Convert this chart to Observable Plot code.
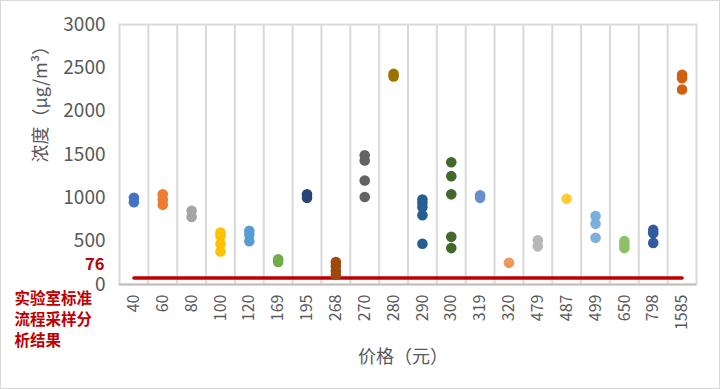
<!DOCTYPE html>
<html><head><meta charset="utf-8">
<script src="https://cdn.jsdelivr.net/npm/d3@7"></script>
<script src="https://cdn.jsdelivr.net/npm/@observablehq/plot@0.6"></script>
<style>
body{margin:0;background:#fff;}
svg{outline:1px solid #d9d9d9;outline-offset:-1px;}
</style></head>
<body><div id="chart"></div>
<script>
const categories = ["40","60","80","100","120","169","195","268","270","280","290","300","319","320","479","487","499","650","798","1585"];
const values = [
  [1000, 950],
  [1040, 980, 920],
  [850, 780],
  [600, 560, 470, 380],
  [620, 570, 500],
  [290, 260],
  [1040, 1000],
  [260, 210, 160, 110],
  [1490, 1430, 1200, 1010],
  [2430, 2400],
  [980, 940, 890, 800, 470],
  [1410, 1250, 1040, 550, 420],
  [1030, 1000],
  [250],
  [510, 440],
  [990],
  [790, 700, 540],
  [500, 460, 420],
  [630, 590, 480],
  [2420, 2380, 2250]
];
const colors = ["#4472C4","#ED7D31","#A5A5A5","#FFC000","#5B9BD5","#70AD47","#264478","#9E480E","#636363","#997300","#255E91","#43682B","#698ED0","#F1975A","#B7B7B7","#FFCD33","#7CAFDD","#8CC168","#335AA1","#D26012"];
const standard = 76;
const yTicks = [0, 500, 1000, 1500, 2000, 2500, 3000];
const noteText = "实验室标准\n流程采样分\n析结果";
const yLabel = "浓度（μg/m³）";
const xLabel = "价格（元）";

const rows = [];
categories.forEach((c, i) => values[i].forEach(v => rows.push({i, c, v, color: colors[i]})));
const lineRows = categories.map((c, i) => ({i, v: standard}));

const font = "'Noto Sans CJK SC', 'Noto Sans', sans-serif";
const chart = Plot.plot({
  width: 720, height: 389,
  marginLeft: 119, marginRight: 24, marginTop: 24, marginBottom: 105,
  style: {fontFamily: font, background: "#fff", overflow: "visible"},
  x: {type: "linear", domain: [0, categories.length]},
  y: {domain: [0, 3000]},
  marks: [
    Plot.ruleX(d3.range(1, categories.length), {stroke: "#D9D9D9", strokeWidth: 2}),
    Plot.frame({stroke: "#D9D9D9", strokeWidth: 2}),
    Plot.ruleY([0], {stroke: "#BFBFBF", strokeWidth: 2}),
    Plot.axisY({ticks: yTicks, tickFormat: d => String(d), tickSize: 0, tickPadding: 14, fontSize: 19, fill: "#595959", label: null}),
    Plot.axisX({ticks: categories.map((c, i) => i + 0.5), tickFormat: (d) => categories[Math.round(d - 0.5)], tickRotate: -90, tickSize: 0, tickPadding: 10, fontSize: 16, fill: "#595959", label: null}),
    Plot.line(lineRows, {x: d => d.i + 0.5, y: "v", stroke: "#C00000", strokeWidth: 3.5}),
    Plot.dot(rows, {x: d => d.i + 0.5, y: "v", fill: "color", r: 5.3}),
    Plot.text([standard], {x: 0, y: d => d, text: d => String(d), dx: -15, textAnchor: "end", fill: "#C00000", fontWeight: "bold", fontSize: 16.5, dy: -13}),
    Plot.text([noteText], {x: 0, y: 0, text: d => d, dx: -105, dy: 4, textAnchor: "start", lineAnchor: "top", lineHeight: 1.38, fill: "#C00000", fontWeight: "bold", fontSize: 15.5}),
    Plot.text([yLabel], {frameAnchor: "left", text: d => d, rotate: -90, dx: -78, dy: 8, fontSize: 18, fill: "#595959"}),
    Plot.text([xLabel], {frameAnchor: "bottom", text: d => d, dx: -5, dy: 78, fontSize: 18, fill: "#595959"})
  ]
});
document.getElementById("chart").appendChild(chart);
</script></body></html>
